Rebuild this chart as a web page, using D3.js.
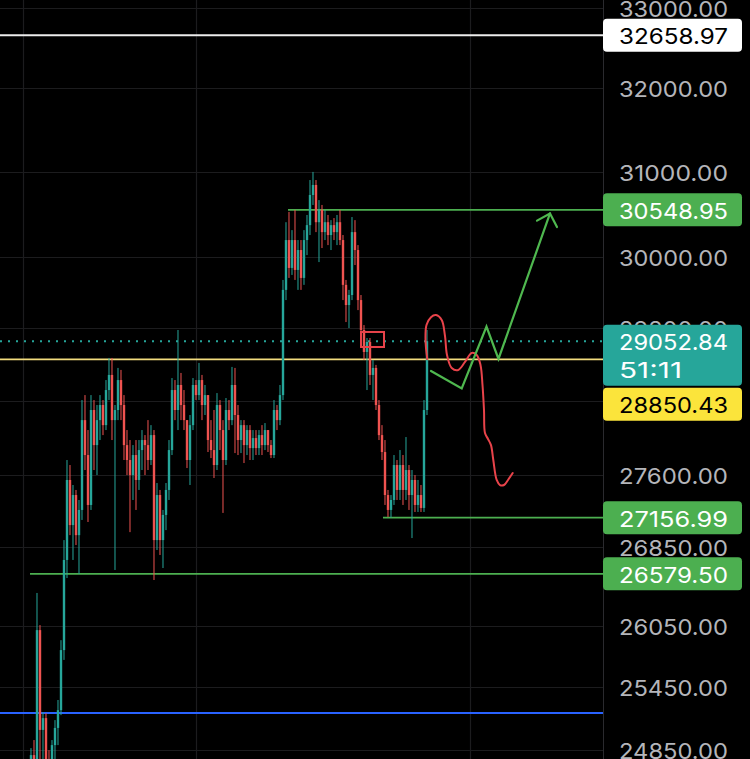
<!DOCTYPE html>
<html><head><meta charset="utf-8">
<script src="https://cdn.jsdelivr.net/npm/d3@7"></script>
<style>html,body{margin:0;padding:0;background:#000;overflow:hidden}</style>
</head><body>
<svg id="c" width="750" height="759"></svg>
<script>
// ---- candle data (open of each candle = previous close) ----
const firstOpen = 24658;
const highs = [
24866,24943,26386,26064,25211,25201,24847,24943,25134,25328,
25914,26925,27762,27709,27498,27446,27341,28406,28460,28082,
28460,28406,28352,28460,28406,28624,28867,28867,28352,28757,
28735,28460,28082,27975,27921,27975,27975,28082,28028,28189,
28135,28082,27519,27446,27237,27519,27975,28646,28624,29177,
28702,28515,28189,28244,28646,28624,28812,28680,28570,28460,
28189,28298,28482,28406,28189,28428,28406,28768,28757,28352,
28189,28189,28135,28135,28082,28082,28082,28135,28157,28082,
27975,28406,28352,28570,29741,30405,30525,30313,30549,30198,
30198,30313,30489,30899,30995,30899,30663,30606,30549,30489,
30429,30453,30489,30549,30256,29741,29628,30465,30429,30140,
29570,29232,29088,29088,28845,28790,28406,28135,27975,27446,
27393,27815,27762,27868,27815,28007,27709,27656,27603,27551,
27498,28406,29177];
const lows = [
24564,24611,24706,24706,24753,24564,24517,24470,24753,24895,
25182,25719,26537,26976,26721,26874,26578,27133,27656,27112,
27237,27656,27603,27975,28028,28082,28406,27975,26619,28189,
28189,27762,27603,27007,27341,27237,27446,27656,27603,27656,
27709,26517,26823,26772,26639,27028,27341,27815,28189,28082,
28189,28082,27677,27498,28082,28406,28406,28189,28244,27847,
27783,27572,27656,27868,27206,27709,28082,28135,27836,27815,
27836,27730,27815,27762,27762,27815,27815,27815,27868,27847,
27783,27783,28082,28135,28406,29513,29764,29798,29741,29628,
29628,29685,30025,30256,30606,30290,29945,30106,30198,30140,
30083,30198,30140,30140,29513,29266,29199,29513,29911,29400,
29044,28845,28515,28570,28406,28298,27975,27762,27289,27164,
27157,27289,27341,27341,27289,27341,27237,26946,27216,27216,
27216,27216,28244];
const closes = [
24800,24753,26014,25040,25153,24706,24658,24895,25059,25230,
25816,26721,27551,27080,27393,26976,27237,28189,27815,27289,
28298,27921,28189,28352,28135,28515,28680,28189,28298,28624,
28352,27921,27762,27603,27815,27551,27868,27975,27921,27762,
28028,26925,27393,26925,27185,27446,27868,28515,28298,28570,
28352,28189,27762,28135,28570,28460,28624,28352,28460,27975,
27868,27709,28352,28082,27762,28298,28189,28570,28244,27975,
28135,27921,28082,27889,27996,27889,28028,27921,28082,27921,
27815,28298,28189,28460,29628,30198,29878,30198,29855,30083,
29764,30198,30371,30723,30841,30405,30549,30290,30405,30256,
30371,30290,30405,30198,29685,29457,29570,30290,30083,29513,
29177,28933,29044,28680,28757,28352,28028,27847,27393,27237,
27341,27709,27446,27709,27446,27656,27393,27551,27289,27393,
27258,28298,29052.84];

// ---- axis ticks ----
const tickValues = [33000,32000,31000,30000,29200,28400,27600,26850,26050,25450,24850];
const timeGridIdx = [-2.67, 55, 146.33];

// ---- horizontal levels ----
const levelValues = [32658.97, 30548.95, 29052.84, 28850.43, 27156.99, 26579.50, 25203];
const levelStartIdx = [null, 85.67, null, null, 117.33, -0.33, null];
const levelKinds = ["white","green","dotted","yellow","green","green","blue"];
const badgeValues = [32658.97, 30548.95, 29052.84, 28850.43, 27156.99, 26579.50];
const badgeKinds = ["white","green","teal","yellow","green","green"];
const countdown = "51:11";

// ---- hand-drawn annotations ----
const redCurveIdx = [132.1,131.5,131.83,133.33,135,136.9,138,138.67,140.23,142.43,144.67,146.9,148.57,149.83,150.5,151,151.33,152.33,153.33,154.1,155.23,156.33,157.67,159,160.57];
const redCurvePrice = [28853,29066,29232,29321,29344,29288,29110,28900,28757,28735,28823,28922,28900,28790,28570,28298,28050,27986,27921,27762,27551,27498,27498,27551,27624];
const greenZigIdx = [133.33,143.57,151.83,155.83,173];
const greenZigPrice = [28724,28533,29216,28856,30507];
const arrowHeadIdx = [168.67,173,175.33];
const arrowHeadPrice = [30423,30507,30348];
const boxIdx = [110, 117.67];
const boxPrice = [29155, 28988];

// ---- build ----
const svg = d3.select("#c");
const W = 750, H = 759, PR = 603;
svg.append("rect").attr("width", W).attr("height", H).attr("fill", "#000");

const x = d3.scaleLinear().domain([-10.333, 189.667]).range([0, 600]);
const y = d3.scaleLog().domain([33000, 24763]).range([8, 759]);

const plot = svg.append("g");
svg.append("clipPath").attr("id","pc").append("rect").attr("x",0).attr("y",0).attr("width",PR).attr("height",H);
plot.attr("clip-path","url(#pc)");

// grid
plot.selectAll("line.hg").data(tickValues).join("line")
  .attr("x1",0).attr("x2",PR).attr("y1",d=>Math.round(y(d))+0.5).attr("y2",d=>Math.round(y(d))+0.5)
  .attr("stroke","#1c1c1e").attr("stroke-width",1.2);
plot.selectAll("line.vg").data(timeGridIdx).join("line")
  .attr("x1",d=>Math.round(x(d))+0.5).attr("x2",d=>Math.round(x(d))+0.5).attr("y1",0).attr("y2",H)
  .attr("stroke","#1c1c1e").attr("stroke-width",1.2);

// levels
const levelColor = {white:"#ececec", green:"#4caf50", dotted:"#26a69a", yellow:"#f2dc7e", blue:"#2962ff"};
levelValues.forEach((v,i)=>{
  const k = levelKinds[i];
  const ln = plot.append("line")
    .attr("x1", levelStartIdx[i]===null ? 0 : x(levelStartIdx[i]))
    .attr("x2", PR)
    .attr("y1", y(v)).attr("y2", y(v))
    .attr("stroke", levelColor[k])
    .attr("stroke-width", k==="white"||k==="blue" ? 2 : (k==="dotted"?2:1.8));
  if (k==="dotted") ln.attr("stroke-dasharray","2,6");
});

// candles
const candles = closes.map((c,i)=>{
  const o = i===0 ? firstOpen : closes[i-1];
  return {i, o, c, h: Math.max(highs[i], o, c), l: Math.min(lows[i], o, c)};
});
const up = "#26a69a", dn = "#ef5350";
const cg = plot.append("g");
cg.selectAll("line").data(candles).join("line")
  .attr("x1",d=>x(d.i)).attr("x2",d=>x(d.i))
  .attr("y1",d=>y(d.h)).attr("y2",d=>y(d.l))
  .attr("stroke",d=>d.c>=d.o?up:dn).attr("stroke-width",1);
cg.selectAll("rect").data(candles).join("rect")
  .attr("x",d=>x(d.i)-1.2).attr("width",2.4)
  .attr("y",d=>Math.min(y(d.o),y(d.c)))
  .attr("height",d=>Math.max(1,Math.abs(y(d.o)-y(d.c))))
  .attr("fill",d=>d.c>=d.o?up:dn);

// annotations
const redPts = redCurveIdx.map((v,i)=>[x(v), y(redCurvePrice[i])]);
plot.append("path").attr("d", d3.line().curve(d3.curveCatmullRom.alpha(0.5))(redPts))
  .attr("fill","none").attr("stroke","#e8434a").attr("stroke-width",2).attr("stroke-linecap","round");
const gPts = greenZigIdx.map((v,i)=>[x(v), y(greenZigPrice[i])]);
plot.append("path").attr("d", d3.line()(gPts))
  .attr("fill","none").attr("stroke","#4fb84f").attr("stroke-width",2.2).attr("stroke-linejoin","miter").attr("stroke-linecap","round");
const aPts = arrowHeadIdx.map((v,i)=>[x(v), y(arrowHeadPrice[i])]);
plot.append("path").attr("d", d3.line()(aPts))
  .attr("fill","none").attr("stroke","#4fb84f").attr("stroke-width",2.2).attr("stroke-linecap","round");
plot.append("rect")
  .attr("x", x(boxIdx[0])).attr("y", y(boxPrice[0]))
  .attr("width", x(boxIdx[1])-x(boxIdx[0])).attr("height", y(boxPrice[1])-y(boxPrice[0]))
  .attr("fill","none").attr("stroke","#e8434a").attr("stroke-width",2);

// axis
const ax = svg.append("g");
ax.append("line").attr("x1",PR+0.5).attr("x2",PR+0.5).attr("y1",0).attr("y2",H).attr("stroke","#2a2a2e").attr("stroke-width",1);
const FONT = "Inter, 'Helvetica Neue', Arial, sans-serif";

// badge layout: stacked so they never overlap (as the price scale does)
const badgeFill = {white:"#ffffff", green:"#4caf50", teal:"#26a69a", yellow:"#fbe43b"};
const badgeText = {white:"#000", green:"#fff", teal:"#fff", yellow:"#000"};
let prevBottom = -Infinity;
const badges = badgeValues.map((v,i)=>{
  const k = badgeKinds[i];
  const hgt = k==="teal" ? 61 : 33;
  let top = y(v) - 16.5;
  if (top < prevBottom + 2) top = prevBottom + 2;
  prevBottom = top + hgt;
  return {v, k, top, hgt};
});

// tick labels (those fully hidden under a badge are skipped)
const visibleTicks = tickValues.filter(t=>{
  const ty = y(t);
  return !badges.some(b => ty - 8 >= b.top && ty + 8 <= b.top + b.hgt);
});
ax.selectAll("text.tk").data(visibleTicks).join("text")
  .attr("x",619).attr("y",d=>y(d)+1)
  .attr("dominant-baseline","central")
  .attr("font-family",FONT).attr("font-size",22)
  .attr("textLength",109).attr("lengthAdjust","spacingAndGlyphs")
  .attr("fill","#b4b5ba")
  .text(d=>d3.format(".2f")(d));

badges.forEach(b=>{
  const cy = b.top + 16.5;
  ax.append("rect").attr("x",PR).attr("y",b.top).attr("width",139).attr("height",b.hgt)
    .attr("rx",4).attr("fill",badgeFill[b.k]);
  ax.append("text").attr("x",619).attr("y",cy+1).attr("dominant-baseline","central")
    .attr("font-family",FONT).attr("font-size",22)
    .attr("textLength",109).attr("lengthAdjust","spacingAndGlyphs")
    .attr("fill",badgeText[b.k]).text(d3.format(".2f")(b.v));
  if (b.k==="teal") {
    ax.append("text").attr("x",619).attr("y",cy+29).attr("dominant-baseline","central")
      .attr("font-family",FONT).attr("font-size",22)
      .attr("textLength",63).attr("lengthAdjust","spacingAndGlyphs")
      .attr("fill","#fff").text(countdown);
  }
});
</script>
</body></html>
